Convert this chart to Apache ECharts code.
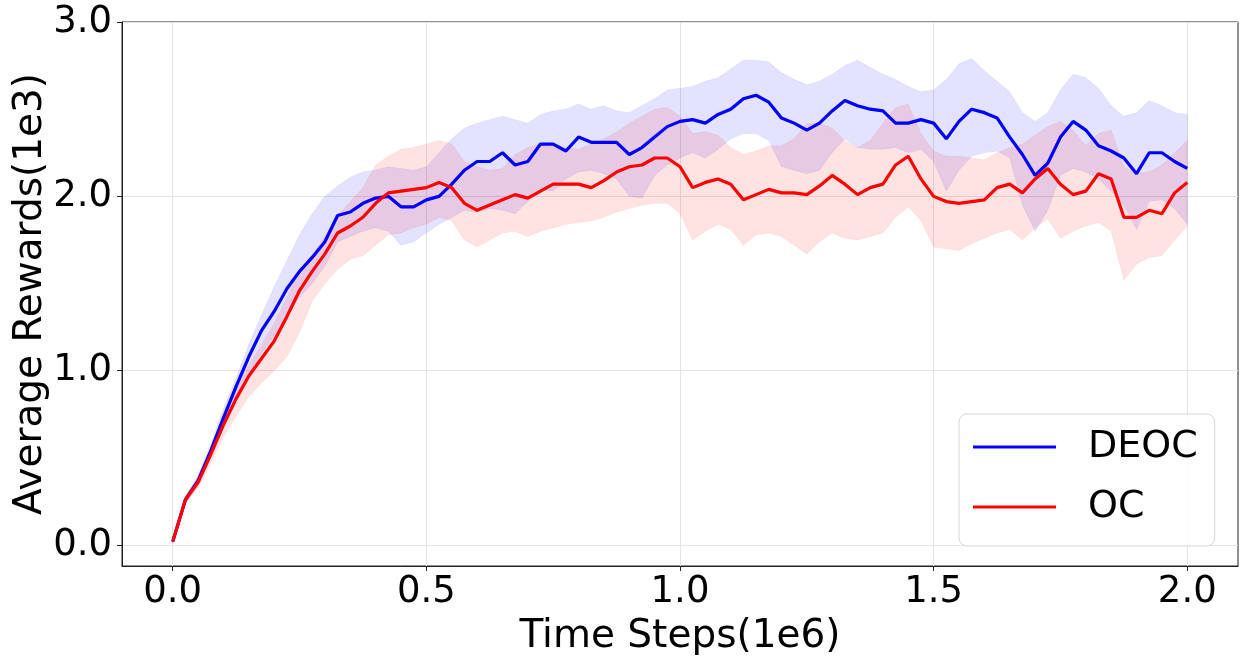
<!DOCTYPE html>
<html>
<head>
<meta charset="utf-8">
<script src="https://cdn.jsdelivr.net/npm/echarts@6/dist/echarts.min.js"></script>
<style>
html,body{margin:0;padding:0;background:#fff;}
#chart{width:1245px;height:664px;}
</style>
</head>
<body>
<div id="chart"></div>
<script>
// x values in units of 1e6 time steps
const steps = [0.000,0.025,0.050,0.075,0.100,0.125,0.150,0.175,0.200,0.225,
0.250,0.275,0.300,0.325,0.350,0.375,0.400,0.425,0.450,0.475,
0.500,0.525,0.550,0.575,0.600,0.625,0.650,0.675,0.700,0.725,
0.750,0.775,0.800,0.825,0.850,0.875,0.900,0.925,0.950,0.975,
1.000,1.025,1.050,1.075,1.100,1.125,1.150,1.175,1.200,1.225,
1.250,1.275,1.300,1.325,1.350,1.375,1.400,1.425,1.450,1.475,
1.500,1.525,1.550,1.575,1.600,1.625,1.650,1.675,1.700,1.725,
1.750,1.775,1.800,1.825,1.850,1.875,1.900,1.925,1.950,1.975,2.000];

const deocMean = [0.02,0.26,0.37,0.54,0.73,0.91,1.08,1.23,1.34,1.47,
1.57,1.65,1.74,1.89,1.91,1.96,1.99,2.00,1.94,1.94,
1.98,2.00,2.07,2.15,2.20,2.20,2.25,2.18,2.20,2.30,
2.30,2.26,2.34,2.31,2.31,2.31,2.24,2.28,2.34,2.40,
2.43,2.44,2.42,2.47,2.50,2.56,2.58,2.54,2.45,2.42,
2.38,2.42,2.49,2.55,2.52,2.50,2.49,2.42,2.42,2.44,
2.42,2.33,2.43,2.50,2.48,2.45,2.34,2.24,2.12,2.19,
2.34,2.43,2.38,2.29,2.26,2.22,2.13,2.25,2.25,2.20,2.16];

const deocLow = [0.01,0.24,0.34,0.50,0.67,0.82,0.97,1.10,1.20,1.32,
1.42,1.50,1.60,1.74,1.77,1.80,1.82,1.80,1.72,1.74,
1.79,1.84,1.88,1.92,1.91,1.93,1.92,1.90,1.97,2.04,
2.03,2.10,2.14,2.15,2.13,2.10,2.00,1.99,2.12,2.18,
2.22,2.25,2.22,2.27,2.33,2.36,2.36,2.32,2.17,2.15,
2.13,2.15,2.25,2.33,2.28,2.27,2.27,2.28,2.25,2.27,
2.20,2.03,2.15,2.23,2.25,2.26,2.22,1.95,1.80,1.92,
2.12,2.16,2.14,2.10,2.03,1.95,1.81,1.97,1.98,1.93,1.84];

const deocHigh = [0.03,0.28,0.40,0.58,0.78,0.96,1.15,1.32,1.48,1.63,
1.78,1.90,2.00,2.06,2.11,2.14,2.15,2.17,2.16,2.15,
2.17,2.25,2.33,2.39,2.42,2.44,2.46,2.44,2.42,2.47,
2.49,2.50,2.53,2.50,2.52,2.49,2.48,2.52,2.56,2.61,
2.62,2.63,2.66,2.68,2.73,2.78,2.78,2.77,2.71,2.67,
2.64,2.66,2.70,2.75,2.78,2.74,2.70,2.67,2.63,2.60,
2.61,2.67,2.76,2.79,2.72,2.66,2.60,2.48,2.43,2.48,
2.61,2.70,2.68,2.62,2.52,2.46,2.48,2.55,2.52,2.48,2.47];

const ocMean = [0.02,0.26,0.36,0.52,0.69,0.84,0.97,1.07,1.17,1.31,
1.46,1.57,1.67,1.79,1.83,1.88,1.96,2.02,2.03,2.04,
2.05,2.08,2.05,1.96,1.92,1.95,1.98,2.01,1.99,2.03,
2.07,2.07,2.07,2.05,2.09,2.14,2.17,2.18,2.22,2.22,
2.17,2.05,2.08,2.10,2.07,1.98,2.01,2.04,2.02,2.02,
2.01,2.06,2.12,2.07,2.01,2.05,2.07,2.18,2.23,2.10,
2.00,1.97,1.96,1.97,1.98,2.05,2.07,2.02,2.10,2.16,
2.07,2.01,2.03,2.13,2.10,1.88,1.88,1.92,1.90,2.02,2.08];

const ocLow = [0.01,0.24,0.33,0.47,0.62,0.74,0.85,0.93,1.00,1.08,
1.22,1.40,1.50,1.58,1.64,1.66,1.72,1.78,1.79,1.82,
1.84,1.88,1.86,1.75,1.71,1.75,1.79,1.80,1.77,1.80,
1.82,1.84,1.85,1.86,1.88,1.91,1.93,1.95,1.96,1.96,
1.90,1.75,1.80,1.84,1.81,1.72,1.78,1.79,1.77,1.72,
1.67,1.74,1.79,1.76,1.75,1.77,1.79,1.88,1.94,1.86,
1.71,1.70,1.69,1.73,1.76,1.79,1.81,1.75,1.82,1.87,
1.76,1.80,1.83,1.85,1.80,1.52,1.61,1.65,1.66,1.75,1.83];

const ocHigh = [0.03,0.28,0.39,0.56,0.74,0.90,1.03,1.15,1.27,1.42,
1.57,1.67,1.77,1.89,1.97,2.05,2.18,2.23,2.27,2.28,
2.30,2.32,2.30,2.20,2.17,2.15,2.16,2.24,2.28,2.30,
2.30,2.28,2.27,2.30,2.33,2.37,2.42,2.46,2.50,2.51,
2.46,2.36,2.37,2.35,2.28,2.24,2.26,2.29,2.29,2.33,
2.42,2.42,2.39,2.32,2.28,2.32,2.42,2.51,2.53,2.36,
2.26,2.23,2.23,2.22,2.21,2.25,2.28,2.30,2.35,2.40,
2.43,2.38,2.29,2.36,2.38,2.17,2.13,2.14,2.18,2.25,2.32];

const seriesNames = ['DEOC', 'OC'];
const xTicks = [0, 0.5, 1.0, 1.5, 2.0];
const yTicks = [0, 1, 2, 3];

const FONT = 'DejaVu Sans';

function pairs(ys) { return steps.map((x, i) => [x, ys[i]]); }

function band(lo, hi, fill, edge) {
  return {
    type: 'custom',
    silent: true,
    z: 1,
    data: [[0, 0]],
    renderItem: function (params, api) {
      const pts = [];
      for (let i = 0; i < steps.length; i++) pts.push(api.coord([steps[i], hi[i]]));
      for (let i = steps.length - 1; i >= 0; i--) pts.push(api.coord([steps[i], lo[i]]));
      return {
        type: 'polygon',
        shape: { points: pts },
        style: { fill: fill, stroke: edge, lineWidth: 1 }
      };
    }
  };
}

const chart = echarts.init(document.getElementById('chart'), null, { renderer: 'canvas' });
chart.setOption({
  animation: false,
  backgroundColor: '#fff',
  grid: { left: 122, right: 7, top: 22, bottom: 98, show: true, borderColor: '#222', borderWidth: 1,
          backgroundColor: 'transparent', containLabel: false, outerBoundsMode: 'none' },
  xAxis: {
    type: 'value', min: -0.1, max: 2.1,
    name: 'Time Steps(1e6)', nameLocation: 'middle', nameGap: 51, nameMoveOverlap: false,
    nameTextStyle: { fontFamily: FONT, fontSize: 39, color: '#000' },
    axisLine: { show: true, onZero: false, lineStyle: { color: '#222', width: 1 } },
    axisTick: { show: true, length: 5, customValues: xTicks, lineStyle: { color: '#222' } },
    axisLabel: { customValues: xTicks, formatter: v => v.toFixed(1), fontFamily: FONT, fontSize: 37, color: '#000', margin: 8 },
    splitLine: { show: true, lineStyle: { color: '#e3e3e3', width: 1 } }
  },
  yAxis: {
    type: 'value', min: -0.12, max: 3.0,
    name: 'Average Rewards(1e3)', nameLocation: 'middle', nameGap: 72, nameMoveOverlap: false,
    nameTextStyle: { fontFamily: FONT, fontSize: 39, color: '#000' },
    axisLine: { show: true, onZero: false, lineStyle: { color: '#222', width: 1 } },
    axisTick: { show: true, length: 5, customValues: yTicks, lineStyle: { color: '#222' } },
    axisLabel: { customValues: yTicks, formatter: v => v.toFixed(1), fontFamily: FONT, fontSize: 37, color: '#000', margin: 10 },
    splitLine: { show: true, lineStyle: { color: '#e3e3e3', width: 1 } }
  },
  legend: {
    data: seriesNames,
    orient: 'vertical', left: 959, top: 414,
    padding: [11, 17, 17, 14], itemGap: 16,
    itemWidth: 83, itemHeight: 3, icon: 'rect',
    backgroundColor: 'rgba(255,255,255,0.8)', borderColor: '#d6d6d6', borderWidth: 1, borderRadius: 8,
    selectedMode: false,
    textStyle: { fontFamily: FONT, fontSize: 38, color: '#000', lineHeight: 44, padding: [0, 0, 0, 27] }
  },
  series: [
    band(deocLow, deocHigh, 'rgba(0,0,255,0.11)', 'rgba(0,0,255,0.06)'),
    band(ocLow, ocHigh, 'rgba(255,0,0,0.11)', 'rgba(255,0,0,0.06)'),
    { name: seriesNames[0], type: 'line', data: pairs(deocMean), showSymbol: false, z: 3,
      color: '#0000ff', lineStyle: { color: '#0000ff', width: 3.2 } },
    { name: seriesNames[1], type: 'line', data: pairs(ocMean), showSymbol: false, z: 4,
      color: '#ff0000', lineStyle: { color: '#ff0000', width: 3.2 } }
  ]
});
</script>
</body>
</html>
